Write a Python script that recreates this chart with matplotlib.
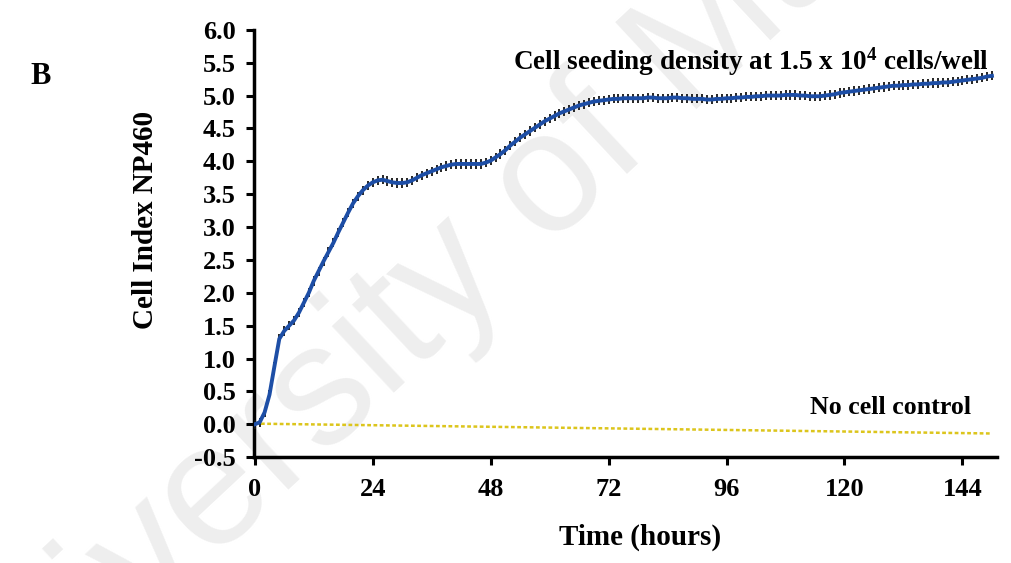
#!/usr/bin/env python3
"""Cell index growth curve (xCELLigence style) for NP460."""

import matplotlib
matplotlib.use("Agg")
import matplotlib.pyplot as plt

plt.rcParams["font.family"] = ["Liberation Serif", "DejaVu Serif"]
plt.rcParams["font.weight"] = "bold"
plt.rcParams["mathtext.fontset"] = "custom"
plt.rcParams["mathtext.rm"] = "Liberation Serif:bold"
plt.rcParams["mathtext.bf"] = "Liberation Serif:bold"
plt.rcParams["mathtext.default"] = "bf"

# Seeded wells, 1.5 x 10^4 cells/well, one reading per hour
hours = list(range(0, 151))
cell_index = [
    0.00, 0.03, 0.18, 0.45, 0.88, 1.30, 1.42, 1.50, 1.58, 1.70,
    1.85, 2.00, 2.18, 2.33, 2.48, 2.62, 2.76, 2.92, 3.07, 3.22,
    3.36, 3.47, 3.56, 3.63, 3.68, 3.71, 3.72, 3.70, 3.68, 3.67,
    3.67, 3.68, 3.71, 3.75, 3.79, 3.82, 3.85, 3.88, 3.91, 3.93,
    3.95, 3.96, 3.96, 3.96, 3.96, 3.96, 3.96, 3.98, 4.01, 4.06,
    4.11, 4.17, 4.24, 4.30, 4.36, 4.41, 4.46, 4.51, 4.56, 4.61,
    4.65, 4.69, 4.73, 4.76, 4.79, 4.82, 4.85, 4.87, 4.89, 4.91,
    4.92, 4.93, 4.94, 4.95, 4.95, 4.96, 4.96, 4.96, 4.96, 4.96,
    4.97, 4.97, 4.96, 4.96, 4.96, 4.97, 4.97, 4.96, 4.96, 4.95,
    4.95, 4.95, 4.94, 4.94, 4.95, 4.95, 4.96, 4.96, 4.97, 4.97,
    4.98, 4.98, 4.99, 4.99, 5.00, 5.00, 5.00, 5.00, 5.01, 5.01,
    5.01, 5.00, 5.00, 4.99, 4.99, 4.99, 5.00, 5.01, 5.02, 5.04,
    5.05, 5.06, 5.07, 5.08, 5.09, 5.10, 5.11, 5.12, 5.13, 5.14,
    5.15, 5.15, 5.16, 5.16, 5.17, 5.17, 5.18, 5.18, 5.19, 5.19,
    5.20, 5.20, 5.21, 5.22, 5.23, 5.24, 5.25, 5.26, 5.27, 5.29,
    5.30,
]
cell_index_sd = 0.07

# No cell control (medium only)
control_hours = [0, 10, 20, 30, 40, 50, 60, 70, 80, 90, 100, 110, 120, 130, 140, 150]
control_index = [0.01, 0.0, -0.01, -0.02, -0.03, -0.04, -0.05, -0.06, -0.07,
                 -0.08, -0.09, -0.10, -0.11, -0.12, -0.13, -0.14]

x_ticks = [0, 24, 48, 72, 96, 120, 144]
y_ticks = [-0.5, 0.0, 0.5, 1.0, 1.5, 2.0, 2.5, 3.0, 3.5, 4.0, 4.5, 5.0, 5.5, 6.0]

fig = plt.figure(figsize=(10.11, 5.63), dpi=100)
ax = fig.add_axes([0.251, 0.188, 0.735, 0.759])

# watermark behind everything
fig.text(0.49, 0.58, "University of Malaya", fontsize=124, family="Liberation Sans",
         weight="normal", color="#eeeeee", rotation=43, ha="center", va="center",
         zorder=-1)
ax.patch.set_alpha(0)

ax.errorbar(hours, cell_index, yerr=cell_index_sd, color="#1d4ea6", lw=2.8,
            ecolor="#151515", elinewidth=1.3, capsize=0, zorder=3)
ax.plot(control_hours, control_index, color="#dcc51c", lw=1.8, ls=(0, (1.5, 1)),
        zorder=2)

ax.set_xlim(-0.2, 151)
ax.set_ylim(-0.5, 6.0)
ax.set_xticks(x_ticks)
ax.set_yticks(y_ticks)
ax.set_yticklabels([f"{v:.1f}" for v in y_ticks])

for side in ["top", "right"]:
    ax.spines[side].set_visible(False)
for side in ["left", "bottom"]:
    ax.spines[side].set_linewidth(2.5)
ax.tick_params(axis="both", direction="out", width=2.2, length=6, labelsize=19)
ax.tick_params(axis="y", pad=7)
ax.tick_params(axis="x", pad=9)

ax.set_xlabel("Time (hours)", fontsize=21, fontweight="bold")
ax.xaxis.set_label_coords(0.52, -0.155)
ax.set_ylabel("Cell Index NP460", fontsize=21, fontweight="bold")
ax.yaxis.set_label_coords(-0.128, 0.555)

ax.text(0.349, 0.925, "Cell seeding density at 1.5 x 10$^{4}$ cells/well",
        transform=ax.transAxes, fontsize=19.5, fontweight="bold", ha="left", va="center")
ax.text(0.749, 0.117, "No cell control", transform=ax.transAxes, fontsize=18.6,
        fontweight="bold", ha="left", va="center")

fig.text(0.04, 0.865, "B", fontsize=22, fontweight="bold", ha="center", va="center")

plt.savefig("out.png", dpi=100, facecolor="white")
